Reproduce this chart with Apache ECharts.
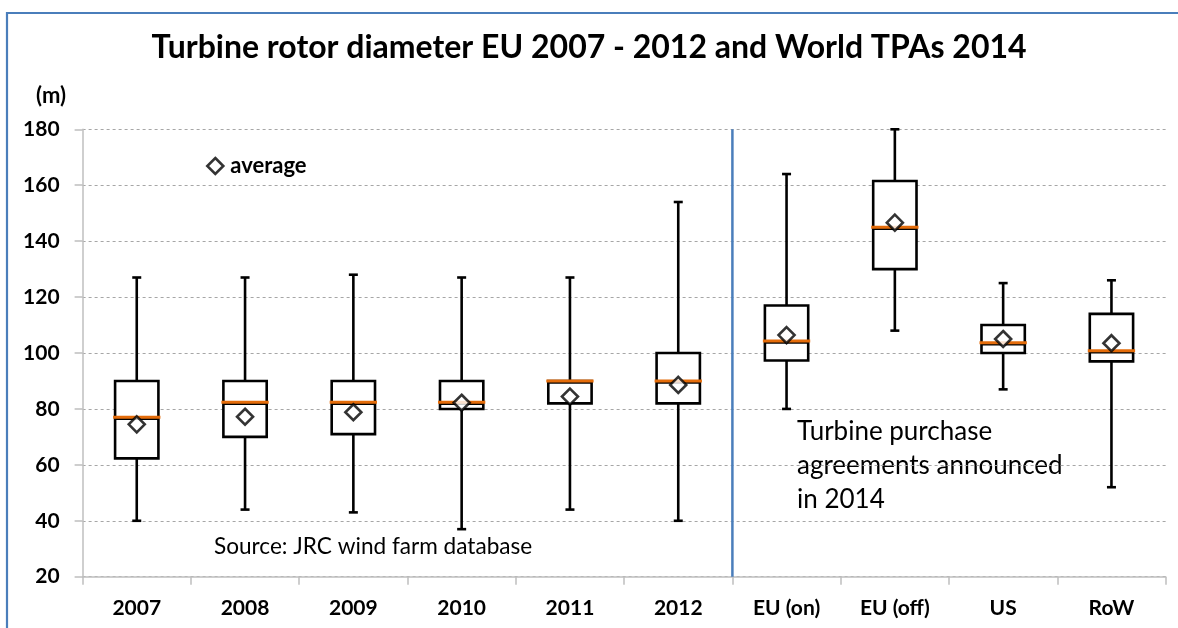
<!DOCTYPE html>
<html><head><meta charset="utf-8">
<script src="https://cdn.jsdelivr.net/npm/echarts@6/dist/echarts.min.js"></script>
<style>html,body{margin:0;padding:0;background:#fff}#c{width:1178px;height:628px}</style>
</head><body><div id="c"></div>
<script>
var categories = ['2007','2008','2009','2010','2011','2012','EU (on)','EU (off)','US','RoW'];
var whiskerLow  = [40, 44, 43, 37, 44, 40, 80, 108, 87, 52];
var q1          = [62.3, 70, 71, 80, 82, 82, 97.3, 130, 100, 97];
var median      = [77, 82.4, 82.4, 82.4, 90, 90, 104.3, 145, 103.7, 100.8];
var q3          = [90, 90, 90, 90, 90, 100, 117, 161.5, 110, 114];
var whiskerHigh = [127, 127, 128, 127, 127, 154, 164, 180, 125, 126];
var mean        = [74.5, 77.2, 78.8, 82.2, 84.4, 88.6, 106.4, 146.6, 105, 103.5];
var yTicks = {min: 20, max: 180, interval: 20};
var titleText = 'Turbine rotor diameter EU 2007 - 2012 and World TPAs 2014';
var sourceText = 'Source: JRC wind farm database';
var noteText = 'Turbine purchase\nagreements announced\nin 2014';

var FONT = 'Lato';
var boxData = categories.map(function(c, i){ return [i, whiskerLow[i], q1[i], median[i], q3[i], whiskerHigh[i]]; });
var meanData = categories.map(function(c, i){ return [i, mean[i]]; });
var sepX = categories.indexOf('EU (on)') - 0.5;

var chart = echarts.init(document.getElementById('c'), null, {renderer: 'canvas'});
chart.setOption({
  animation: false,
  backgroundColor: '#fff',
  title: {text: titleText, left: 'center', top: 27,
    textStyle: {fontFamily: FONT, fontWeight: 'bold', fontSize: 32, color: '#000'}},
  legend: {data: ['average'], left: 201, top: 150, itemWidth: 16, itemHeight: 16, itemGap: 4,
    icon: 'diamond',
    itemStyle: {color: '#fff', borderColor: '#000', borderWidth: 2.6},
    textStyle: {fontFamily: FONT, fontWeight: 'bold', fontSize: 22, color: '#000', padding: [0,0,0,2]}},
  grid: {left: 82.6, right: 12.4, top: 129.3, bottom: 51.3, containLabel: false},
  xAxis: [{
    type: 'category', data: categories,
    axisLine: {lineStyle: {color: '#bfbfbf', width: 1.5}},
    axisTick: {show: true, interval: 0, length: 8, lineStyle: {color: '#bfbfbf', width: 1.5}},
    axisLabel: {interval: 0, margin: 21, fontFamily: FONT, fontWeight: 'bold', fontSize: 21, color: '#000'},
    splitLine: {show: false}
  }, {
    type: 'value', min: -0.5, max: categories.length - 0.5, show: false
  }],
  yAxis: {
    type: 'value', min: yTicks.min, max: yTicks.max, interval: yTicks.interval,
    axisLine: {show: true, onZero: false, lineStyle: {color: '#bfbfbf', width: 1.5}},
    axisTick: {show: true, length: 8, lineStyle: {color: '#bfbfbf', width: 1.5}},
    axisLabel: {margin: 23, fontFamily: FONT, fontWeight: 'bold', fontSize: 21, color: '#000'},
    splitLine: {show: true, lineStyle: {color: '#a6a6a6', width: 1, type: [3, 3]}}
  },
  graphic: [
    {type: 'rect', shape: {x: 7, y: 13, width: 1300, height: 800}, style: {fill: 'none', stroke: '#4a7ebb', lineWidth: 2.2}, z: 100, silent: true},
    {type: 'text', left: 36, top: 85, style: {text: '(m)', fontFamily: FONT, fontWeight: 'bold', fontSize: 22, fill: '#000'}},
    {type: 'text', left: 214, top: 535, style: {text: sourceText, fontFamily: FONT, fontSize: 22.6, fill: '#000'}},
    {type: 'text', left: 797, top: 415, style: {text: noteText, fontFamily: FONT, fontSize: 26, lineHeight: 34, fill: '#000'}}
  ],
  series: [
    {
      type: 'line', xAxisIndex: 1, data: [[sepX, yTicks.min], [sepX, yTicks.max]],
      symbol: 'none', lineStyle: {color: '#4a7ebb', width: 2.5}, silent: true, z: 1
    },
    {
      type: 'custom', name: 'box', data: boxData, xAxisIndex: 0,
      encode: {x: 0, y: [1, 2, 3, 4, 5]}, z: 3,
      renderItem: function(params, api){
        var x = api.value(0);
        var pLow = api.coord([x, api.value(1)]);
        var pQ1 = api.coord([x, api.value(2)]);
        var pMed = api.coord([x, api.value(3)]);
        var pQ3 = api.coord([x, api.value(4)]);
        var pHigh = api.coord([x, api.value(5)]);
        var band = api.size([1, 0])[0];
        var half = band * 0.2;
        var cx = pMed[0];
        var ls = {stroke: '#000', lineWidth: 2.6};
        var cap = 4.5;
        return {type: 'group', children: [
          {type: 'line', shape: {x1: cx, y1: pHigh[1], x2: cx, y2: pLow[1]}, style: ls},
          {type: 'line', shape: {x1: cx - cap, y1: pHigh[1], x2: cx + cap, y2: pHigh[1]}, style: ls},
          {type: 'line', shape: {x1: cx - cap, y1: pLow[1], x2: cx + cap, y2: pLow[1]}, style: ls},
          {type: 'rect', shape: {x: cx - half, y: pQ3[1], width: half * 2, height: pQ1[1] - pQ3[1]},
            style: {fill: '#fff', stroke: '#000', lineWidth: 2.6}},
          {type: 'line', shape: {x1: cx - half, y1: pMed[1] + 1.5, x2: cx + half, y2: pMed[1] + 1.5}, style: ls},
          {type: 'line', shape: {x1: cx - half - 2, y1: pMed[1], x2: cx + half + 2, y2: pMed[1]},
            style: {stroke: '#e46c0a', lineWidth: 3}}
        ]};
      }
    },
    {
      type: 'scatter', name: 'average', data: meanData, xAxisIndex: 0, z: 5,
      symbol: 'diamond', symbolSize: 16,
      itemStyle: {color: '#fff', borderColor: '#000', borderWidth: 2.6}
    }
  ]
});
</script></body></html>
